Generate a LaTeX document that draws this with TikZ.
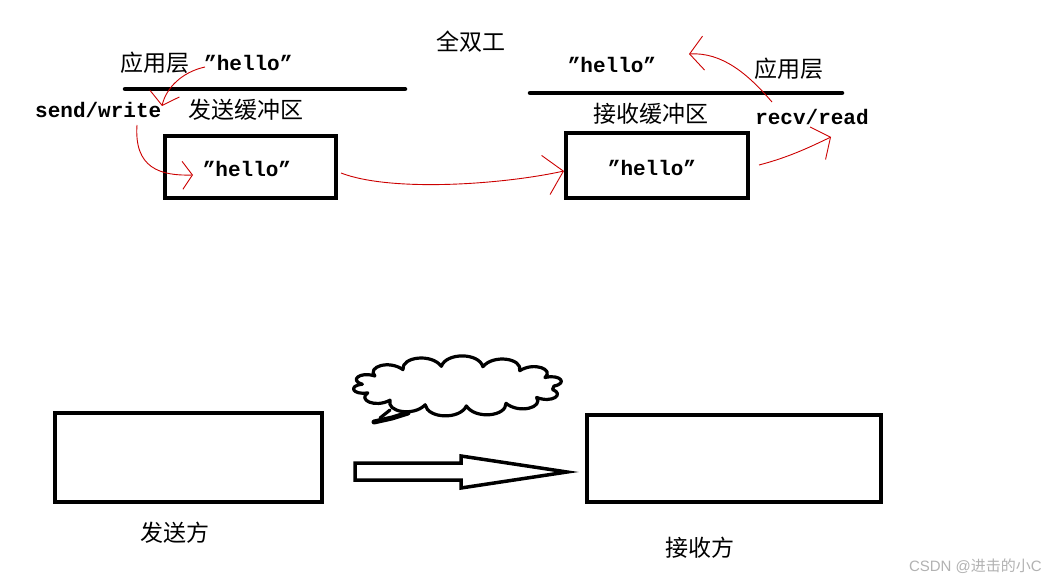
\documentclass[tikz,border=0pt]{standalone}
\usepackage{fontspec}
\setmainfont{Liberation Mono}
\newfontfamily\cjk{Noto Sans CJK SC}
\newfontfamily\wm{Liberation Sans}
\usetikzlibrary{arrows.meta}
\tikzset{
  cn/.style={font=\cjk\fontsize{23}{23}\selectfont, inner sep=0pt},
  lt/.style={font=\bfseries\fontsize{21}{21}\selectfont, inner sep=0pt},
  buf/.style={draw, line width=4.5pt, inner sep=0pt},
  side/.style={draw, line width=3.2pt, inner sep=0pt},
  layer/.style={line width=4.5pt, line cap=round},
  redarr/.style={draw=red!80!black, line width=0.9pt},
}
\begin{document}
\begin{tikzpicture}[x=1pt,y=-1pt]
\useasboundingbox[fill=white] (0,0) rectangle (1047,585);
% top title
\node[cn] (full) at (471,42) {全双工};
% sender side
\node[cn, anchor=west] (app1) at (120,63) {应用层};
\node[lt, anchor=west] (h0) at (204,63) {"hello"};
\coordinate (l1a) at (125,89);
\coordinate (l1b) at (405,89);
\draw[layer] (l1a) -- (l1b);
\node[lt, anchor=west] (sendw) at (35,110) {send/write};
\node[cn] (sbuf) at (246,110) {发送缓冲区};
\node[buf, minimum width=171pt, minimum height=62pt] (box1) at (250.5,167) {};
\node[lt] (h1) at (247,169) {"hello"};
% receiver side
\node[lt] (h2) at (612,65) {"hello"};
\node[cn] (app2) at (789,69) {应用层};
\coordinate (l2a) at (530,93);
\coordinate (l2b) at (842,93);
\draw[layer] (l2a) -- (l2b);
\node[cn] (rbuf) at (651,114) {接收缓冲区};
\node[lt] (recv) at (812,117) {recv/read};
\node[buf, minimum width=182pt, minimum height=65pt] (box2) at (657,165.5) {};
\node[lt] (h3) at (652,168) {"hello"};
% red hand arrows
\coordinate (r1s) at (205,67);
\coordinate (r1e) at (162,106);
\draw[redarr, -{Straight Barb[length=12pt,width=30pt]}] (r1s) .. controls (182,72) and (166,88) .. (r1e);
\coordinate (r2s) at (137,125);
\coordinate (r2e) at (193,175);
\draw[redarr, -{Straight Barb[length=10pt,width=28pt]}] (r2s) .. controls (134,168) and (160,176) .. (r2e);
\coordinate (r3s) at (341,173);
\coordinate (r3e) at (564,171);
\draw[redarr, -{Straight Barb[length=18pt,width=40pt]}] (r3s) .. controls (390,192) and (500,185) .. (r3e);
\coordinate (r4s) at (759,165);
\coordinate (r4e) at (831,137);
\draw[redarr, -{Straight Barb[length=14pt,width=36pt]}] (r4s) .. controls (790,157) and (812,146) .. (r4e);
\coordinate (r5s) at (772,102);
\coordinate (r5e) at (689,54);
\draw[redarr, -{Straight Barb[length=14pt,width=34pt]}] (r5s) .. controls (748,74) and (722,52) .. (r5e);
% bottom part
\node[side, minimum width=267pt, minimum height=89pt] (sender) at (188.5,457.5) {};
\node[side, minimum width=294pt, minimum height=87pt] (receiver) at (734,458.5) {};
\node[cn] (slabel) at (175,533) {发送方};
\node[cn] (rlabel) at (700,548) {接收方};
% cloud
\draw[line width=3.2pt, line join=round] ({458+96},{386})
  \foreach \a in {0,25,...,335} {
    .. controls ({458+110*cos(\a+4)},{386-34*sin(\a+4)}) and ({458+110*cos(\a+21)},{386-34*sin(\a+21)})
    .. ({458+96*cos(\a+25)},{386-20*sin(\a+25)}) } -- cycle;
\draw[line width=3.2pt, line cap=round] (390,410) -- (380,418);
\draw[line width=5pt, line cap=round] (374,422) -- (392,418) -- (408,413);
\draw[line width=3.5pt, line join=miter] (355,463) -- (461,463) -- (461,456) -- (567,472)
  -- (461,488) -- (461,480) -- (355,480) -- cycle;
% watermark
\node[font=\wm\fontsize{15}{15}\selectfont, text=black!30, inner sep=0pt, anchor=east] (mark) at (1042,566) {CSDN @{\cjk 进击的小}C};
\end{tikzpicture}
\end{document}
